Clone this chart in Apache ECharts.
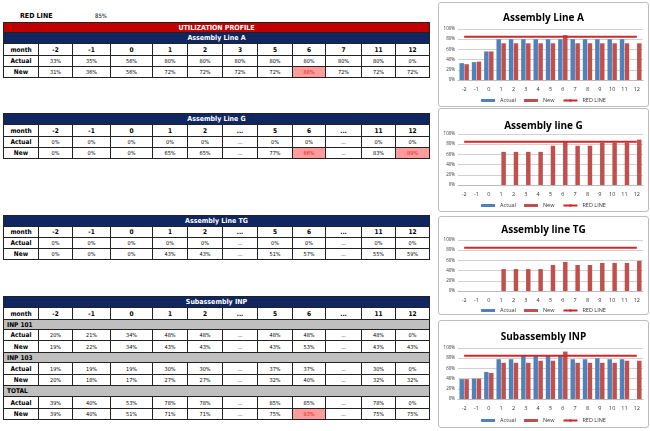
<!DOCTYPE html>
<html><head><meta charset="utf-8">
<script src="https://cdn.jsdelivr.net/npm/echarts@6/dist/echarts.min.js"></script>
<style>
body{margin:0;width:650px;height:431px;background:#fff;position:relative;overflow:hidden;font-family:"DejaVu Sans Condensed","DejaVu Sans",sans-serif;}
.c{position:absolute;box-sizing:border-box;border:1px solid #222;display:flex;align-items:center;justify-content:center;font-size:5.5px;color:#000;white-space:nowrap;background:#fff;}
.b{font-weight:bold;font-size:6.5px;}
.h{color:#fff;font-weight:bold;font-size:7px;border-color:#222;}
.red{background:#C00000;}
.navy{background:#0F2660;}
.gray{background:#BFBFBF;justify-content:flex-start;padding-left:3px;font-weight:bold;font-size:6.5px;}
.hi{background:#FF9C9C;color:#E02020;}
.box{position:absolute;box-sizing:border-box;border:1px solid #bdbdbd;border-radius:3px;background:#fff;}
.top{position:absolute;font-weight:bold;font-size:7px;}
</style></head><body>
<div class="top" style="left:20px;top:12px;">RED LINE</div>
<div class="top" style="left:95px;top:12px;font-weight:normal;font-size:6px;">85%</div>
<div id="tables"></div>
<div class="box" id="boxA" style="left:438px;top:2px;width:211px;height:105px;"></div>
<div class="box" id="boxG" style="left:438px;top:108px;width:211px;height:104px;"></div>
<div class="box" id="boxTG" style="left:438px;top:216px;width:211px;height:99px;"></div>
<div class="box" id="boxINP" style="left:438px;top:320px;width:211px;height:108px;"></div>
<script>
// ---- chart data ----
const months = ['-2','-1','0','1','2','3','4','5','6','7','8','9','10','11','12'];
const redLineValue = 85;
const lineA_actual = [33,35,56,80,80,80,80,80,80,80,80,80,80,80,0];
const lineA_new    = [31,36,56,72,72,72,72,72,88,72,72,72,72,72,72];
const lineG_actual = [0,0,0,0,0,0,0,0,0,0,0,0,0,0,0];
const lineG_new    = [0,0,0,65,65,65,65,77,86,77,77,83,83,83,89];
const lineTG_actual= [0,0,0,0,0,0,0,0,0,0,0,0,0,0,0];
const lineTG_new   = [0,0,0,43,43,43,43,51,57,51,51,55,55,55,59];
const inp_actual   = [39,40,53,78,78,85,85,85,85,78,78,80,78,78,0];
const inp_new      = [39,40,51,71,71,71,75,75,93,71,71,71,71,75,75];

// ---- table data ----
const tableMonthsA = ['-2','-1','0','1','2','3','5','6','7','11','12'];
const tableMonths  = ['-2','-1','0','1','2','...','5','6','...','11','12'];
const tA_actual = ['33%','35%','56%','80%','80%','80%','80%','80%','80%','80%','0%'];
const tA_new    = ['31%','36%','56%','72%','72%','72%','72%','88%','72%','72%','72%'];
const tG_actual = ['0%','0%','0%','0%','0%','...','0%','0%','...','0%','0%'];
const tG_new    = ['0%','0%','0%','65%','65%','...','77%','86%','...','83%','89%'];
const tTG_actual= ['0%','0%','0%','0%','0%','...','0%','0%','...','0%','0%'];
const tTG_new   = ['0%','0%','0%','43%','43%','...','51%','57%','...','55%','59%'];
const t101_actual=['20%','21%','34%','48%','48%','...','48%','48%','...','48%','0%'];
const t101_new  = ['19%','22%','34%','43%','43%','...','43%','53%','...','43%','43%'];
const t103_actual=['19%','19%','19%','30%','30%','...','37%','37%','...','30%','0%'];
const t103_new  = ['20%','18%','17%','27%','27%','...','32%','40%','...','32%','32%'];
const tTot_actual=['39%','40%','53%','78%','78%','...','85%','85%','...','78%','0%'];
const tTot_new  = ['39%','40%','51%','71%','71%','...','75%','93%','...','75%','75%'];

// ---- table layout ----
const colX = [3,38,72,110,152,187,222,257,292,325,361,395,429];
const host = document.getElementById('tables');
function cell(x,y,w,h,text,cls){
  const d=document.createElement('div');
  d.className='c '+(cls||'');
  d.style.left=x+'px';d.style.top=y+'px';d.style.width=(w+1)+'px';d.style.height=(h+1)+'px';
  d.textContent=text;host.appendChild(d);return d;
}
function fullRow(y,h,text,cls){ return cell(colX[0],y,colX[colX.length-1]-colX[0],h,text,cls); }
function dataRow(y,h,label,vals){
  cell(colX[0],y,colX[1]-colX[0],h,label,'b');
  vals.forEach((v,i)=>{
    const hi = parseInt(v)>redLineValue ? 'hi' : '';
    cell(colX[i+1],y,colX[i+2]-colX[i+1],h,v,hi);
  });
}
function headRow(y,h,vals){
  cell(colX[0],y,colX[1]-colX[0],h,'month','b');
  vals.forEach((v,i)=>cell(colX[i+1],y,colX[i+2]-colX[i+1],h,v,'b'));
}
// Table A
fullRow(22,10,'UTILIZATION PROFILE','h red');
fullRow(32,11,'Assembly Line A','h navy');
headRow(43,12,tableMonthsA);
dataRow(55,11,'Actual',tA_actual);
dataRow(66,11,'New',tA_new);
// Table G
fullRow(113,11,'Assembly Line G','h navy');
headRow(124,12,tableMonths);
dataRow(136,11,'Actual',tG_actual);
dataRow(147,11,'New',tG_new);
// Table TG
fullRow(215,11,'Assembly Line TG','h navy');
headRow(226,11,tableMonths);
dataRow(237,11,'Actual',tTG_actual);
dataRow(248,11,'New',tTG_new);
// Table INP
fullRow(296,11,'Subassembly INP','h navy');
headRow(307,12,tableMonths);
fullRow(319,10,'INP 101','gray');
dataRow(329,11,'Actual',t101_actual);
dataRow(340,12,'New',t101_new);
fullRow(352,10,'INP 103','gray');
dataRow(362,12,'Actual',t103_actual);
dataRow(374,11,'New',t103_new);
fullRow(385,11,'TOTAL','gray');
dataRow(396,12,'Actual',tTot_actual);
dataRow(408,11,'New',tTot_new);

// ---- charts ----
function makeChart(id,title,actual,nw,L){
  const el=document.getElementById(id);
  const ch=echarts.init(el,null,{renderer:'canvas'});
  ch.setOption({
    animation:false,
    textStyle:{fontFamily:'"Open Sans","DejaVu Sans",sans-serif'},
    title:{text:title,left:'center',top:L.title,textStyle:{fontSize:10,fontWeight:'bold',color:'#000',fontFamily:'"Open Sans",sans-serif'}},
    grid:{left:19,right:5,top:L.grid,height:51},
    legend:{top:L.legend,left:'center',itemWidth:14,itemHeight:3,itemGap:8,padding:0,
      textStyle:{fontSize:5.5,color:'#333',lineHeight:7},
      data:[{name:'Actual',icon:'rect'},{name:'New',icon:'rect'},{name:'RED LINE'}]},
    xAxis:{type:'category',data:months,axisTick:{show:false},
      axisLine:{lineStyle:{color:'#bbb'}},axisLabel:{fontSize:5.5,color:'#333',margin:6,interval:0}},
    yAxis:{type:'value',min:0,max:100,interval:20,
      axisLabel:{formatter:'{value}%',fontSize:4.5,color:'#333',margin:3},
      splitLine:{lineStyle:{color:'#d0d0d0'}},axisLine:{show:false}},
    series:[
      {name:'Actual',type:'bar',data:actual,itemStyle:{color:'#4F81BD'},barGap:'10%',barCategoryGap:'24%'},
      {name:'New',type:'bar',data:nw,itemStyle:{color:'#C0504D'}},
      {name:'RED LINE',type:'line',data:months.map(()=>redLineValue),symbol:'none',
        lineStyle:{color:'#D02828',width:2},itemStyle:{color:'#D02828'},z:5}
    ]
  });
}
makeChart('boxA','Assembly Line A',lineA_actual,lineA_new,{title:5,grid:26,legend:94});
makeChart('boxG','Assembly line G',lineG_actual,lineG_new,{title:7,grid:25,legend:93});
makeChart('boxTG','Assembly line TG',lineTG_actual,lineTG_new,{title:3,grid:23,legend:90});
makeChart('boxINP','Subassembly INP',inp_actual,inp_new,{title:6,grid:27,legend:96});
</script>
</body></html>
